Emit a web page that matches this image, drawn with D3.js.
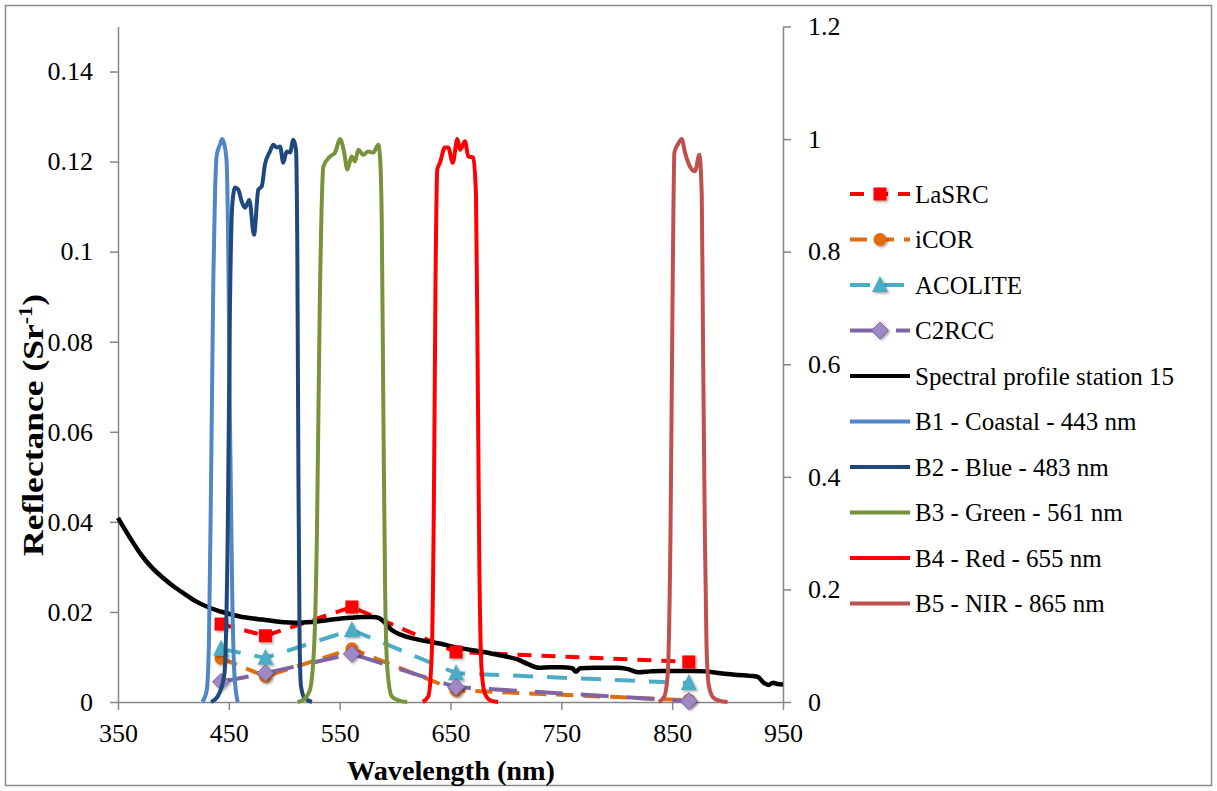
<!DOCTYPE html>
<html><head><meta charset="utf-8">
<script src="https://cdn.jsdelivr.net/npm/d3@7"></script>
<style>
html,body{margin:0;padding:0;background:#fff;}
svg{display:block;}
text{font-family:"Liberation Serif","Times New Roman",serif;fill:#000;}
</style></head>
<body>
<svg id="chart" width="1217" height="791"></svg>
<script>
// ---------- data ----------
const xTicks = [350, 450, 550, 650, 750, 850, 950];
const yLeftTicks = [0, 0.02, 0.04, 0.06, 0.08, 0.1, 0.12, 0.14];
const yRightTicks = [0, 0.2, 0.4, 0.6, 0.8, 1, 1.2];

const sensorWl = [443, 483, 561, 655, 865];
const lasrc   = [0.0173, 0.0147, 0.0211, 0.0111, 0.0089];
const icor    = [0.0097, 0.0057, 0.0118, 0.0026, 0.0004];
const acolite = [0.0118, 0.0098, 0.0160, 0.0064, 0.0042];
const c2rcc   = [0.0045, 0.0064, 0.0107, 0.0033, 0.0002];

const profileWl = [350,360,370,380,390,400,410,420,430,440,450,460,470,480,490,500,510,520,530,540,550,560,570,580,585,590,595,600,610,620,630,640,650,660,670,680,690,700,710,720,730,740,750,760,763,767,780,790,800,810,820,830,840,850,860,870,880,890,900,910,920,927,933,937,941,945,950];
const profileVal = [0.0409,0.0368,0.0330,0.0300,0.0277,0.0257,0.0240,0.0224,0.0212,0.0203,0.0196,0.0190,0.0186,0.0183,0.0180,0.0177,0.0176,0.0177,0.0179,0.0182,0.0185,0.0187,0.0189,0.0189,0.0187,0.0178,0.0164,0.0155,0.0145,0.0139,0.0134,0.0130,0.0124,0.0119,0.0115,0.0111,0.0106,0.0101,0.0095,0.0084,0.0076,0.0077,0.0077,0.0075,0.0067,0.0075,0.0076,0.0076,0.0076,0.0073,0.0066,0.0068,0.0069,0.0069,0.0069,0.0069,0.0068,0.0065,0.0062,0.0060,0.0058,0.0056,0.0042,0.0038,0.0043,0.0040,0.0039];

const b1Wl  = [426,430,432,434,436,437.5,439,442,444,446,448,449.5,451,453,455,458];
const b1Val = [0,0.02,0.1,0.4,0.75,0.9,0.97,0.99,1.0,0.99,0.96,0.8,0.5,0.2,0.05,0];

const b2Wl  = [434,440,446,449,451,453,455.6,458.6,461.6,464.6,468.5,472.7,476.6,479.7,482.6,487.1,490.1,493.2,496.2,499.1,502.2,505.2,508.2,510.6,511.8,512.8,513.8,515,518,525];
const b2Val = [0,0.01,0.05,0.3,0.7,0.88,0.914,0.91,0.889,0.878,0.892,0.83,0.91,0.916,0.955,0.978,0.99,0.985,0.987,0.958,0.978,0.976,0.999,0.981,0.8,0.4,0.12,0.03,0.008,0];

const b3Wl  = [512,518,523,527,529.5,532,535.3,541.3,545.8,550.3,553.9,556.9,560.8,563.8,566.8,571.3,575.8,580.3,584.9,586.4,588,589.5,591,593,597,603,611];
const b3Val = [0,0.005,0.02,0.1,0.3,0.7,0.951,0.969,0.976,1.0,0.978,0.946,0.969,0.96,0.981,0.972,0.978,0.976,0.99,0.969,0.85,0.5,0.2,0.06,0.01,0.003,0];

const b4Wl  = [625,630,633,635,636.5,638.1,640.5,645,648,652,656.2,658.6,663.1,666.1,670.6,673,674.5,676,678,681,686,693];
const b4Val = [0,0.01,0.08,0.35,0.75,0.946,0.958,0.985,0.985,0.958,1.0,0.981,0.996,0.969,0.967,0.9,0.6,0.25,0.06,0.015,0.003,0];

const b5Wl  = [838,843,846,848.5,850.5,852,855,858.6,861.6,866.1,870.6,874.5,876.7,878,879.5,881,883,887,893,900];
const b5Val = [0,0.01,0.05,0.3,0.75,0.976,0.99,1.0,0.976,0.951,0.943,0.972,0.9,0.6,0.3,0.1,0.03,0.008,0.002,0];

const seriesNames = ["LaSRC","iCOR","ACOLITE","C2RCC","Spectral profile station 15",
  "B1 - Coastal - 443 nm","B2 - Blue - 483 nm","B3 - Green - 561 nm","B4 - Red - 655 nm","B5 - NIR - 865 nm"];

// ---------- styles ----------
const sensorSeries = [
  {name:seriesNames[0], vals:lasrc,   color:"#FF0000", dash:"14,10", marker:"square",   size:13},
  {name:seriesNames[1], vals:icor,    color:"#E46C0A", dash:"17,10", marker:"circle",   size:13},
  {name:seriesNames[2], vals:acolite, color:"#4BACC6", dash:"20,14", marker:"triangle", size:16},
  {name:seriesNames[3], vals:c2rcc,   color:"#8064A2", dash:"28,18", marker:"diamond",  size:17}
];
const bands = [
  {name:seriesNames[5], wl:b1Wl, vals:b1Val, color:"#4F86C6"},
  {name:seriesNames[6], wl:b2Wl, vals:b2Val, color:"#1F497D"},
  {name:seriesNames[7], wl:b3Wl, vals:b3Val, color:"#77933C"},
  {name:seriesNames[8], wl:b4Wl, vals:b4Val, color:"#FF0000"},
  {name:seriesNames[9], wl:b5Wl, vals:b5Val, color:"#C0504D"}
];

// ---------- layout ----------
const svg = d3.select("#chart");
const L = 118, R = 783, T = 26.5, B = 702;
const x = d3.scaleLinear().domain([350, 950]).range([L, R]);
const yL = d3.scaleLinear().domain([0, 0.15]).range([B, T]);
const yR = d3.scaleLinear().domain([0, 1.2]).range([B, T]);
const axisColor = "#868686";

svg.append("rect").attr("x",5.5).attr("y",5.5).attr("width",1206).attr("height",780)
  .attr("fill","#fff").attr("stroke","#8c8c8c").attr("stroke-width",1.5);

const defs = svg.append("defs");
const f = defs.append("filter").attr("id","shadow").attr("x","-50%").attr("y","-50%").attr("width","200%").attr("height","200%");
f.append("feDropShadow").attr("dx",1.5).attr("dy",1.5).attr("stdDeviation",1.2).attr("flood-color","#000").attr("flood-opacity",0.35);

// axes
function styleAxis(g){
  g.select(".domain").attr("stroke",axisColor).attr("stroke-width",1.5);
  g.selectAll(".tick line").attr("stroke",axisColor).attr("stroke-width",1.5);
  g.selectAll(".tick text").style("font-family","'Liberation Serif',serif").style("font-size","26px").attr("fill","#000");
}
const gx = svg.append("g").attr("transform",`translate(0,${B})`)
  .call(d3.axisBottom(x).tickValues(xTicks).tickSize(8).tickSizeOuter(0).tickPadding(14).tickFormat(d3.format("d")));
styleAxis(gx);
const gyl = svg.append("g").attr("transform",`translate(${L},0)`)
  .call(d3.axisLeft(yL).tickValues(yLeftTicks).tickSize(8).tickSizeOuter(0).tickPadding(17).tickFormat(d => d===0 ? "0" : String(+d.toFixed(2))));
styleAxis(gyl);
const gyr = svg.append("g").attr("transform",`translate(${R},0)`)
  .call(d3.axisRight(yR).tickValues(yRightTicks).tickSize(8).tickSizeOuter(0).tickPadding(17).tickFormat(d => d===0 ? "0" : String(+d.toFixed(1))));
styleAxis(gyr);

// axis titles
svg.append("text").attr("x",451).attr("y",780).attr("text-anchor","middle")
  .attr("textLength",208).attr("lengthAdjust","spacingAndGlyphs")
  .style("font-weight","bold").style("font-size","27px").text("Wavelength (nm)");
const yt = svg.append("text").attr("transform","translate(43,425) rotate(-90)").attr("text-anchor","middle")
  .attr("textLength",262).attr("lengthAdjust","spacingAndGlyphs")
  .style("font-weight","bold").style("font-size","29px");
yt.append("tspan").text("Reflectance (Sr");
yt.append("tspan").attr("dy",-11).style("font-size","18px").text("-1");
yt.append("tspan").attr("dy",11).text(")");

// marker drawing
function drawMarker(g, type, size, color){
  const s = size/2;
  if(type==="square") g.append("rect").attr("x",-s).attr("y",-s).attr("width",size).attr("height",size).attr("fill",color);
  else if(type==="circle") g.append("circle").attr("r",s).attr("fill",color);
  else if(type==="triangle") g.append("path").attr("d",`M0,${-s-1}L${s},${s-1}L${-s},${s-1}Z`).attr("fill",color);
  else if(type==="diamond") g.append("path").attr("d",`M0,${-s}L${s},0L0,${s}L${-s},0Z`).attr("stroke","#6a5290").attr("stroke-width",0.8).attr("fill","#9F88C4");
}

// sensor series lines
sensorSeries.forEach(s => {
  const pts = sensorWl.map((w,i)=>[w,s.vals[i]]);
  svg.append("path").datum(pts)
    .attr("d", d3.line().x(d=>x(d[0])).y(d=>yL(d[1])))
    .attr("fill","none").attr("stroke",s.color).attr("stroke-width",4)
    .attr("stroke-dasharray",s.dash).attr("stroke-linecap","butt");
});
// spectral profile
const prof = profileWl.map((w,i)=>[w,profileVal[i]]);
svg.append("path").datum(prof)
  .attr("d", d3.line().x(d=>x(d[0])).y(d=>yL(d[1])).curve(d3.curveMonotoneX))
  .attr("fill","none").attr("stroke","#000").attr("stroke-width",4.5).attr("stroke-linejoin","round");

// markers
sensorSeries.forEach(s => {
  sensorWl.forEach((w,i)=>{
    const g = svg.append("g").attr("transform",`translate(${x(w)},${yL(s.vals[i])})`).attr("filter","url(#shadow)");
    drawMarker(g, s.marker, s.size, s.color);
  });
});

// bands (secondary axis)
bands.forEach(b => {
  const pts = b.wl.map((w,i)=>[w,b.vals[i]]);
  svg.append("path").datum(pts)
    .attr("d", d3.line().x(d=>x(d[0])).y(d=>yR(d[1])).curve(d3.curveMonotoneX))
    .attr("fill","none").attr("stroke",b.color).attr("stroke-width",4).attr("stroke-linejoin","round");
});

// legend
const legX = 850, legW = 60, legY0 = 194, legDy = 45.5;
const legItems = [
  ...sensorSeries.map(s=>({name:s.name,color:s.color,dash:s.dash,marker:s.marker,size:s.size})),
  {name:seriesNames[4], color:"#000", dash:null},
  ...bands.map(b=>({name:b.name,color:b.color,dash:null}))
];
legItems.forEach((it,i)=>{
  const yy = legY0 + i*legDy;
  const g = svg.append("g").attr("transform",`translate(0,${yy})`);
  g.append("line").attr("x1",legX).attr("x2",legX+legW).attr("y1",0).attr("y2",0)
    .attr("stroke",it.color).attr("stroke-width",4).attr("stroke-dasharray",it.dash ? it.dash : null);
  if(it.marker){
    const m = g.append("g").attr("transform",`translate(${legX+legW/2},0)`).attr("filter","url(#shadow)");
    drawMarker(m, it.marker, it.size, it.color);
  }
  g.append("text").attr("x",legX+legW+5).attr("y",0).attr("dy","0.35em")
    .style("font-size","25px").text(it.name);
});
</script>
</body></html>
